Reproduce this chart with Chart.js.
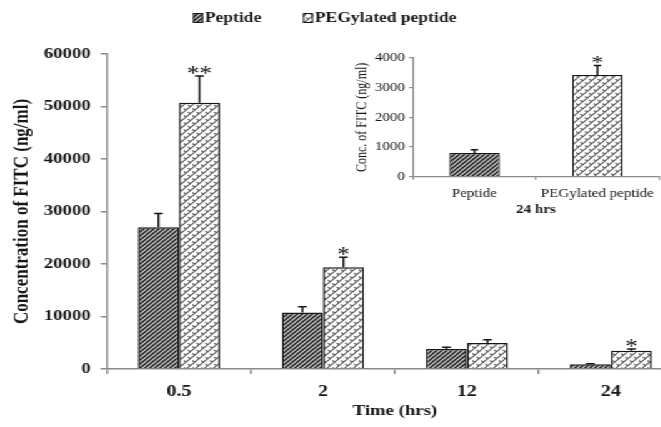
<!DOCTYPE html>
<html>
<head>
<meta charset="utf-8">
<script src="https://cdn.jsdelivr.net/npm/chart.js@4.4.1/dist/chart.umd.min.js"></script>
<style>
  html, body { margin: 0; padding: 0; background: #fff; overflow: hidden; width: 661px; height: 427px; }
  #clip { position: relative; width: 661px; height: 427px; overflow: hidden; }
  /* the original figure is stretched horizontally; reproduce that with a uniform x-stretch */
  #stage { position: absolute; left: 0; top: 0; width: 560px; height: 427px; transform: scaleX(1.25); transform-origin: 0 0; }
  #main { position: absolute; left: 0; top: 0; }
  #inset { position: absolute; left: 272px; top: 30px; }
</style>
</head>
<body>
<div id="clip">
  <div id="stage">
    <canvas id="main" width="560" height="427" style="width:560px;height:427px"></canvas>
    <canvas id="inset" width="264" height="195" style="width:264px;height:195px"></canvas>
  </div>
</div>
<script>
// ---- data ----
const categories = ['0.5', '2', '12', '24'];
const seriesNames = ['Peptide', 'PEGylated peptide'];
const peptide = [27000, 10750, 3800, 900];
const peptideErr = [2600, 1100, 330, 100];
const pegylated = [50700, 19400, 4950, 3500];
const pegylatedErr = [5100, 1900, 600, 300];
const peptideSig = ['', '', '', ''];
const pegylatedSig = ['**', '*', '', '*'];
const yTicks = [0, 10000, 20000, 30000, 40000, 50000, 60000];

const insetCategories = ['Peptide', 'PEGylated peptide'];
const insetValues = [800, 3430];
const insetErr = [110, 320];
const insetSig = ['', '*'];
const insetTicks = [0, 1000, 2000, 3000, 4000];
const insetXTitle = '24 hrs';

const FONT = "'Liberation Serif', 'Times New Roman', serif";
const AXIS = '#8a8a8a';
const INK = '#161616';

// ---- patterns ----
function darkPattern() {
  const c = document.createElement('canvas');
  c.width = 4; c.height = 4;
  const g = c.getContext('2d');
  g.fillStyle = '#c8c8c8'; g.fillRect(0, 0, 4, 4);
  g.strokeStyle = '#1c1c1c'; g.lineWidth = 1.5;
  g.beginPath();
  g.moveTo(-1, 5); g.lineTo(5, -1);
  g.moveTo(-1, 1); g.lineTo(1, -1);
  g.moveTo(3, 5); g.lineTo(5, 3);
  g.stroke();
  return g.createPattern(c, 'repeat');
}
function lightPattern() {
  const c = document.createElement('canvas');
  c.width = 7; c.height = 7;
  const g = c.getContext('2d');
  g.fillStyle = '#ffffff'; g.fillRect(0, 0, 7, 7);
  g.strokeStyle = '#555555'; g.lineWidth = 1.1;
  g.beginPath();
  g.moveTo(-1, 8); g.lineTo(8, -1);
  g.moveTo(-1, 1); g.lineTo(1, -1);
  g.moveTo(6, 8); g.lineTo(8, 6);
  g.moveTo(0, 3.5); g.lineTo(2, 5.5);
  g.moveTo(3.5, 0); g.lineTo(5.5, 2);
  g.moveTo(3.5, 7); g.lineTo(5.5, 9);
  g.stroke();
  return g.createPattern(c, 'repeat');
}
const patA = darkPattern();
const patB = lightPattern();

// ---- error bars / significance plugin ----
function errPlugin(errs, sigs, cap, starSize) {
  return {
    id: 'errbars',
    afterDatasetsDraw(chart) {
      const ctx = chart.ctx;
      const ys = chart.scales.y;
      ctx.save();
      chart.data.datasets.forEach((ds, i) => {
        const meta = chart.getDatasetMeta(i);
        meta.data.forEach((bar, j) => {
          const v = ds.data[j];
          if (v == null) return;
          const top = ys.getPixelForValue(v + errs[i][j]);
          ctx.strokeStyle = INK;
          ctx.lineWidth = 1.5;
          ctx.beginPath();
          ctx.moveTo(bar.x, bar.y);
          ctx.lineTo(bar.x, top);
          ctx.moveTo(bar.x - cap / 2, top);
          ctx.lineTo(bar.x + cap / 2, top);
          ctx.stroke();
          const s = sigs[i][j];
          if (s) {
            ctx.fillStyle = INK;
            ctx.font = 'normal ' + starSize + 'px ' + FONT;
            ctx.textAlign = 'center';
            ctx.textBaseline = 'alphabetic';
            ctx.fillText(s, bar.x, top + 4);
          }
        });
      });
      ctx.restore();
    }
  };
}

// ---- legend plugin (main chart) ----
const legendPlugin = {
  id: 'toplegend',
  afterDraw(chart) {
    const ctx = chart.ctx;
    const items = [
      { x: 154.5, fill: patA, text: seriesNames[0] },
      { x: 242.5, fill: patB, text: seriesNames[1] }
    ];
    ctx.save();
    items.forEach(it => {
      ctx.fillStyle = it.fill;
      ctx.fillRect(it.x, 13, 8, 10);
      ctx.strokeStyle = INK; ctx.lineWidth = 1;
      ctx.strokeRect(it.x + 0.5, 13.5, 7, 9);
      ctx.fillStyle = INK;
      ctx.font = 'bold 14px ' + FONT;
      ctx.textAlign = 'left';
      ctx.textBaseline = 'middle';
      ctx.fillText(it.text, it.x + 9.5, 18.5);
    });
    ctx.restore();
  }
};

// ---- main chart ----
new Chart(document.getElementById('main'), {
  type: 'bar',
  data: {
    labels: categories,
    datasets: [
      { label: seriesNames[0], data: peptide, backgroundColor: patA, borderColor: INK, borderWidth: 1.5,
        categoryPercentage: 0.57, barPercentage: 1 },
      { label: seriesNames[1], data: pegylated, backgroundColor: patB, borderColor: INK, borderWidth: 1.5,
        categoryPercentage: 0.57, barPercentage: 1 }
    ]
  },
  options: {
    responsive: false,
    animation: false,
    devicePixelRatio: 1,
    layout: { padding: { top: 54, right: 13.6, left: 0, bottom: 0 } },
    plugins: { legend: { display: false }, tooltip: { enabled: false } },
    scales: {
      x: {
        offset: true,
        grid: { display: true, drawOnChartArea: false, drawTicks: true, tickLength: 5, color: AXIS, lineWidth: 1.5, offset: true },
        border: { display: true, color: AXIS, width: 1.5 },
        ticks: { color: INK, padding: 8, font: { family: FONT, weight: 'bold', size: 16 } },
        title: { display: true, text: 'Time (hrs)', color: INK, font: { family: FONT, weight: 'bold', size: 15 }, padding: { top: 0, bottom: 7 } },
        afterFit(s) { s.height = 58; }
      },
      y: {
        min: yTicks[0], max: yTicks[yTicks.length - 1],
        afterBuildTicks(s) { s.ticks = yTicks.map(v => ({ value: v })); },
        grid: { display: true, drawOnChartArea: false, drawTicks: true, tickLength: 5, color: AXIS, lineWidth: 1.5 },
        border: { display: true, color: AXIS, width: 1.5 },
        ticks: { color: INK, padding: 8, font: { family: FONT, weight: 'bold', size: 15 }, callback: v => String(v) },
        title: { display: true, text: 'Concentration of FITC (ng/ml)', color: INK, font: { family: FONT, weight: 'bold', size: 17 }, padding: { top: 7, bottom: 0 } },
        afterFit(s) { s.width = 85.6; }
      }
    }
  },
  plugins: [errPlugin([peptideErr, pegylatedErr], [peptideSig, pegylatedSig], 7, 20), legendPlugin]
});

// ---- inset chart ----
new Chart(document.getElementById('inset'), {
  type: 'bar',
  data: {
    labels: insetCategories,
    datasets: [
      { label: insetXTitle, data: insetValues, backgroundColor: [patA, patB], borderColor: INK, borderWidth: 1.3,
        categoryPercentage: 0.41, barPercentage: 1 }
    ]
  },
  options: {
    responsive: false,
    animation: false,
    devicePixelRatio: 1,
    layout: { padding: { top: 28, right: 8.8, left: 0, bottom: 0 } },
    plugins: { legend: { display: false }, tooltip: { enabled: false } },
    scales: {
      x: {
        offset: true,
        grid: { display: true, drawOnChartArea: false, drawTicks: true, tickLength: 3, color: AXIS, lineWidth: 1.2, offset: true },
        border: { display: true, color: AXIS, width: 1.2 },
        ticks: { color: INK, padding: 7, font: { family: FONT, size: 12 } },
        title: { display: true, text: insetXTitle, color: INK, font: { family: FONT, weight: 'bold', size: 12 }, padding: { top: 0, bottom: 8 } },
        afterFit(s) { s.height = 48.3; }
      },
      y: {
        min: insetTicks[0], max: insetTicks[insetTicks.length - 1],
        afterBuildTicks(s) { s.ticks = insetTicks.map(v => ({ value: v })); },
        grid: { display: true, drawOnChartArea: false, drawTicks: true, tickLength: 3, color: AXIS, lineWidth: 1.2 },
        border: { display: true, color: AXIS, width: 1.2 },
        ticks: { color: INK, padding: 3.4, font: { family: FONT, size: 12 }, callback: v => String(v) },
        title: { display: true, text: 'Conc. of FITC (ng/ml)', color: INK, font: { family: FONT, size: 12 }, padding: { top: 11, bottom: 0 } },
        afterFit(s) { s.width = 58.4; }
      }
    }
  },
  plugins: [errPlugin([insetErr], [insetSig], 6, 19)]
});
</script>
</body>
</html>
